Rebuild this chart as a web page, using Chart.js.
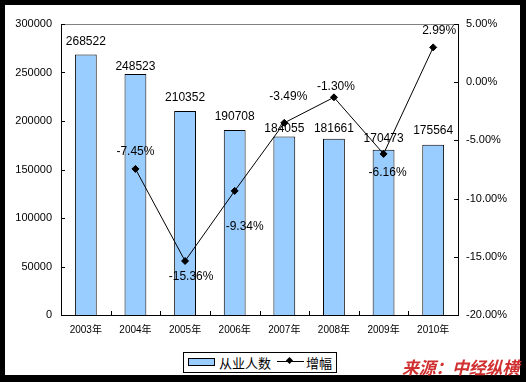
<!DOCTYPE html>
<html><head><meta charset="utf-8">
<script src="https://cdn.jsdelivr.net/npm/chart.js@4/dist/chart.umd.min.js"></script>
<style>
html,body{margin:0;padding:0;background:#000;}
#wrap{position:relative;width:526px;height:382px;overflow:hidden;}
canvas{position:absolute;left:0;top:0;}
#legend{position:absolute;left:183px;top:352px;width:152px;height:19px;border:1px solid #000;background:#fff;font:13px 'Liberation Sans','Noto Sans CJK SC',sans-serif;color:#000;}
#legend .sw{position:absolute;left:4px;top:5px;width:25px;height:6px;background:#99CCFF;border:1px solid #000;}
#legend .t1{position:absolute;left:35px;top:1px;line-height:17px;font-family:'Noto Sans CJK SC',sans-serif;}
#legend .ln{position:absolute;left:93px;top:8px;width:27px;height:1px;background:#000;}
#legend .dm{position:absolute;left:103px;top:5px;width:5px;height:5px;background:#000;transform:rotate(45deg);}
#legend .t2{position:absolute;left:122px;top:1px;line-height:17px;font-family:'Noto Sans CJK SC',sans-serif;}
#wm{position:absolute;left:402px;top:357px;font:italic bold 17px 'Noto Sans CJK SC',sans-serif;color:#D03030;line-height:20px;letter-spacing:-0.3px;}
</style></head>
<body><div id="wrap"><canvas id="c" width="526" height="382"></canvas>
<div id="legend"><div class="sw"></div><span class="t1">从业人数</span><div class="ln"></div><div class="dm"></div><span class="t2">增幅</span></div>
<div id="wm">来源：中经纵横</div>
</div>
<script>
const categories = ['2003年','2004年','2005年','2006年','2007年','2008年','2009年','2010年'];
const employees = [268522,248523,210352,190708,184055,181661,170473,175564];
const growth = [null,-7.45,-15.36,-9.34,-3.49,-1.30,-6.16,2.99];
const seriesNames = ['从业人数','增幅'];

const FONT = "'Liberation Sans','Noto Sans CJK SC',sans-serif";
const barLabelLift = [13,7.5,13.5,13.5,8,10,10.5,14.5];
const lineLabelOff = [[0,0],[0,-17],[6,16],[10,36],[4,-26],[2,-11],[4,19],[6,-17]];

const framePlugin = {
  id:'frame',
  beforeDraw(chart){
    const c = chart.ctx;
    c.save();
    c.fillStyle='#000'; c.fillRect(0,0,chart.width,chart.height);
    c.fillStyle='#fff'; c.fillRect(5,5,515,370);
    c.restore();
  },
  afterDraw(chart){
    const c = chart.ctx, a = chart.chartArea;
    c.save();
    c.strokeStyle='#808080'; c.lineWidth=1;
    c.beginPath(); c.moveTo(a.left,a.top+0.5); c.lineTo(a.right,a.top+0.5); c.stroke();
    c.strokeStyle='#000';
    const xs = chart.scales.x;
    c.beginPath();
    for(let i=0;i<=categories.length;i++){
      const px = Math.round(xs.getPixelForValue(i-0.5))+0.5;
      c.moveTo(px,a.bottom); c.lineTo(px,a.bottom-4);
    }
    const y1 = chart.scales.y1;
    y1.ticks.forEach(t=>{
      const py = Math.round(y1.getPixelForValue(t.value))+0.5;
      c.moveTo(a.right,py); c.lineTo(a.right-4,py);
    });
    const y = chart.scales.y;
    y.ticks.forEach(t=>{
      const py = Math.round(y.getPixelForValue(t.value))+0.5;
      c.moveTo(a.left,py); c.lineTo(a.left+4,py);
    });
    c.stroke();
    c.restore();
  },
  afterDatasetsDraw(chart){
    const c = chart.ctx;
    c.save();
    c.font = '12px '+FONT; c.fillStyle='#000'; c.textAlign='center'; c.textBaseline='middle';
    const m0 = chart.getDatasetMeta(0);
    m0.data.forEach((el,i)=>{
      c.fillText(String(employees[i]), el.x, el.y - barLabelLift[i]);
    });
    const m1 = chart.getDatasetMeta(1);
    m1.data.forEach((el,i)=>{
      if(growth[i]==null) return;
      const o = lineLabelOff[i];
      c.fillText(growth[i].toFixed(2)+'%', el.x+o[0], el.y+o[1]);
    });
    c.restore();
  }
};

new Chart(document.getElementById('c'),{
  data:{
    labels:categories,
    datasets:[
      {type:'bar',label:seriesNames[0],data:employees,yAxisID:'y',backgroundColor:'#99CCFF',borderColor:'#000',borderWidth:1,categoryPercentage:1,barPercentage:0.44,order:2},
      {type:'line',label:seriesNames[1],data:growth,yAxisID:'y1',borderColor:'#000',borderWidth:1,backgroundColor:'#000',pointStyle:'rectRot',pointRadius:3.5,pointBackgroundColor:'#000',pointBorderColor:'#000',tension:0,order:1}
    ]
  },
  options:{
    responsive:false,animation:false,
    layout:{padding:{top:24,left:0,right:0,bottom:0}},
    plugins:{legend:{display:false},tooltip:{enabled:false}},
    scales:{
      x:{grid:{display:false,drawTicks:false},border:{display:true,color:'#000',width:1},
         ticks:{font:{size:10,family:FONT},color:'#000',padding:9,maxRotation:0},
         afterFit(s){s.height=67;}},
      y:{position:'left',min:0,max:300000,grid:{display:false,drawTicks:false},border:{display:true,color:'#000',width:1},
         ticks:{stepSize:50000,font:{size:11,family:FONT},color:'#000',padding:9,callback:v=>String(v)},
         afterFit(s){s.width=61;}},
      y1:{position:'right',min:-20,max:5,grid:{display:false,drawTicks:false},border:{display:true,color:'#000',width:1},
         ticks:{stepSize:5,font:{size:11,family:FONT},color:'#000',padding:8,callback:v=>v.toFixed(2)+'%'},
         afterFit(s){s.width=68;}}
    }
  },
  plugins:[framePlugin]
});
</script></body></html>
